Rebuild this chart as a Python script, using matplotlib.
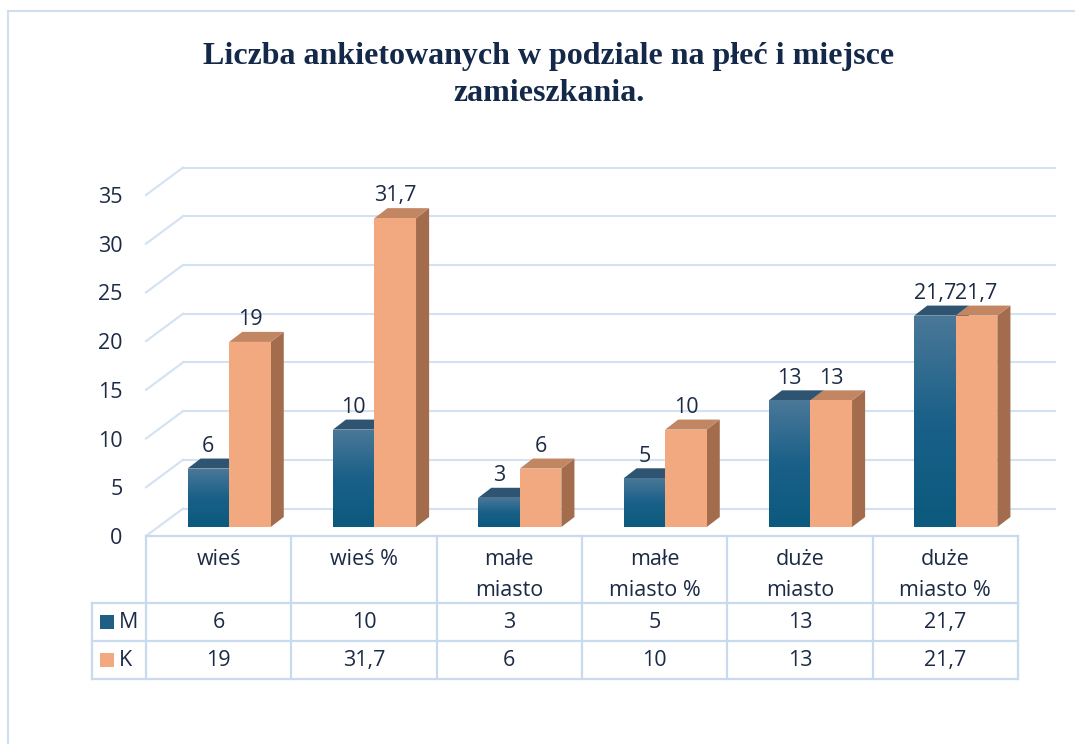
import numpy as np
import matplotlib
matplotlib.use("Agg")
import matplotlib.pyplot as plt
from matplotlib.patches import Polygon, Rectangle
from matplotlib.lines import Line2D
from matplotlib.colors import LinearSegmentedColormap

categories = ["wieś", "wieś %", "małe\nmiasto", "małe\nmiasto %", "duże\nmiasto", "duże\nmiasto %"]
series_names = ["M", "K"]
m_values = [6, 10, 3, 5, 13, 21.7]
k_values = [19, 31.7, 6, 10, 13, 21.7]
y_ticks = [0, 5, 10, 15, 20, 25, 30, 35]

TEXT = "#1c2b45"
GRID = "#d3e2f3"
TABLE = "#c8daee"
M_TOP, M_LIGHT, M_DARK = "#2e5472", "#4a7898", "#0c5a7e"
K_FRONT, K_TOP, K_SIDE = "#f2a97f", "#c28663", "#a36c4d"
FS = 15.5

plt.rcParams["font.family"] = ["Open Sans", "DejaVu Sans"]


def fmt(v):
    return f"{v:g}".replace(".", ",")


fig = plt.figure(figsize=(10.75, 7.44), dpi=100)
ax = fig.add_axes([146 / 1075, 1 - 536 / 744, 872 / 1075, 341 / 744])
ax.set_xlim(-0.5, 5.5)
ax.set_ylim(0, 35)

# fake 3d depth (data units)
DX, DY = 0.255, 2.82      # floor / wall depth
BX, BY = 0.072, 0.92      # bar front offset
W = 0.286                 # bar width
BDX, BDY = 0.09, 1.03     # bar depth

# back wall gridlines + left wall diagonals
for v in y_ticks:
    ax.add_line(Line2D([-0.5 + DX, 5.5 + DX], [v + DY, v + DY], color=GRID, lw=1.5, clip_on=False, zorder=1))
    ax.add_line(Line2D([-0.5, -0.5 + DX], [v, v + DY], color=GRID, lw=1.5, clip_on=False, zorder=1))

cmap_m = LinearSegmentedColormap.from_list("m", [M_DARK, "#1a6088", M_LIGHT])
grad = np.linspace(0, 1, 100).reshape(-1, 1)


def draw_bar(x0, h, top, side, z, front=None):
    y0 = BY
    ax.add_patch(Polygon([(x0 + W, y0), (x0 + W + BDX, y0 + BDY), (x0 + W + BDX, y0 + h + BDY), (x0 + W, y0 + h)],
                         fc=side, ec="none", zorder=z, clip_on=False))
    ax.add_patch(Polygon([(x0, y0 + h), (x0 + W, y0 + h), (x0 + W + BDX, y0 + h + BDY), (x0 + BDX, y0 + h + BDY)],
                         fc=top, ec="none", zorder=z, clip_on=False))
    if front is not None:
        ax.add_patch(Rectangle((x0, y0), W, h, fc=front, ec="none", zorder=z, clip_on=False))
    else:
        rect = Rectangle((x0, y0), W, h, fc="none", ec="none", zorder=z)
        ax.add_patch(rect)
        im = ax.imshow(grad, extent=[x0, x0 + W, y0, y0 + h], cmap=cmap_m, aspect="auto",
                       origin="lower", zorder=z, interpolation="bilinear")
        im.set_clip_path(rect)


for i, (m, k) in enumerate(zip(m_values, k_values)):
    xm = i + BX - W
    xk = i + BX
    draw_bar(xm, m, M_TOP, M_TOP, 3 + i * 0.1)
    draw_bar(xk, k, K_TOP, K_SIDE, 3.05 + i * 0.1, front=K_FRONT)
    ax.text(xm + W / 2, m + BY + 1.2, fmt(m), ha="center", va="bottom", fontsize=FS, color=TEXT)
    ax.text(xk + W / 2, k + BY + 1.2, fmt(k), ha="center", va="bottom", fontsize=FS, color=TEXT)

ax.set_xlim(-0.5, 5.5)
ax.set_ylim(0, 35)
ax.set_xticks([])
ax.set_yticks(y_ticks)
ax.set_yticklabels([str(t) for t in y_ticks], fontsize=FS, color=TEXT)
ax.tick_params(axis="y", length=0, pad=17)
for s in ax.spines.values():
    s.set_visible(False)

# data table under the chart
XL = -0.5 - 54 / 145.33
Y1, Y2, Y3 = -6.88, -10.78, -14.68
tbl = dict(color=TABLE, lw=1.6, clip_on=False, zorder=2)
ax.add_line(Line2D([-0.5, 5.5], [0, 0], **tbl))
for y in (Y1, Y2, Y3):
    ax.add_line(Line2D([XL, 5.5], [y, y], **tbl))
for j in range(7):
    ax.add_line(Line2D([-0.5 + j, -0.5 + j], [0, Y3], **tbl))
ax.add_line(Line2D([XL, XL], [Y1, Y3], **tbl))

for i, cat in enumerate(categories):
    ax.text(i, -1.35, cat, ha="center", va="top", fontsize=FS, color=TEXT, linespacing=1.62, clip_on=False)
    ax.text(i, (Y1 + Y2) / 2, fmt(m_values[i]), ha="center", va="center", fontsize=FS, color=TEXT)
    ax.text(i, (Y2 + Y3) / 2, fmt(k_values[i]), ha="center", va="center", fontsize=FS, color=TEXT)

key_w = 14 / 145.33
key_h = 14 / 9.743
for (name, col, yc) in [("M", "#1f5f85", (Y1 + Y2) / 2), ("K", K_FRONT, (Y2 + Y3) / 2)]:
    ax.add_patch(Rectangle((XL + 8 / 145.33, yc - key_h / 2), key_w, key_h, fc=col, ec="none", clip_on=False))
    ax.text(XL + 27 / 145.33, yc, name, ha="left", va="center", fontsize=FS, color=TEXT)

# title
fig.text(549 / 1075, 1 - 75 / 744, "Liczba ankietowanych w podziale na płeć i miejsce\nzamieszkania.",
         ha="center", va="center", fontsize=23, fontweight="bold", family="Liberation Serif",
         color="#14294a", linespacing=1.38)

# chart frame (cropped at right and bottom)
fcol = "#d0def0"
fig.add_artist(Line2D([8 / 1075, 8 / 1075], [0, 1 - 11 / 744], color=fcol, lw=1.5, transform=fig.transFigure))
fig.add_artist(Line2D([8 / 1075, 1], [1 - 11 / 744, 1 - 11 / 744], color=fcol, lw=1.5, transform=fig.transFigure))

fig.savefig("out.png", dpi=100)
